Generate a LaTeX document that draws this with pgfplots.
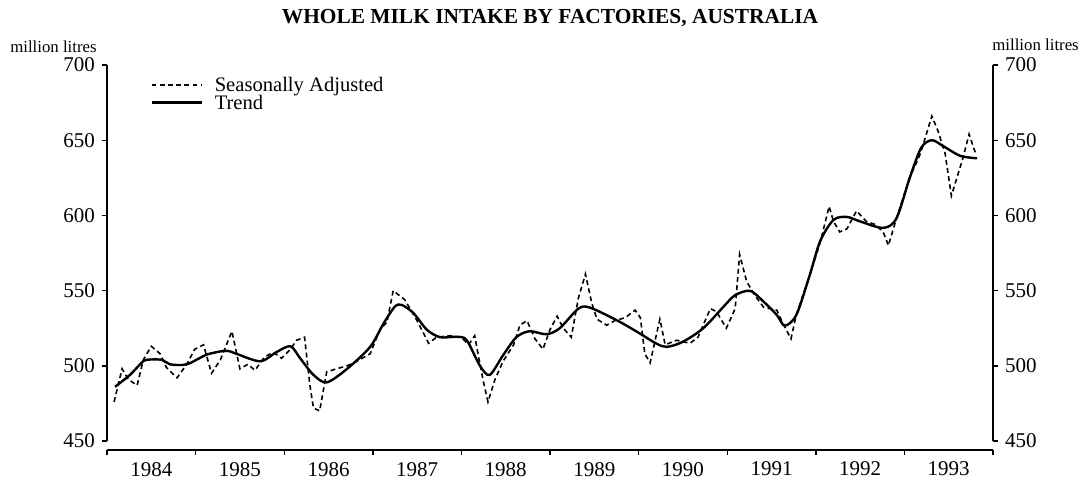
\documentclass[border=0pt]{standalone}
\usepackage{fontspec}
\setmainfont{Liberation Serif}
\usepackage{pgfplots}
\usepackage{pgfplotstable}
\pgfplotsset{compat=1.18}

\pgfplotstableread{
x y
0.08 476
0.17 498
0.24 491
0.34 487
0.41 504
0.50 513
0.60 508
0.67 499
0.79 492
0.90 501
0.99 511
1.09 514
1.18 495
1.28 504
1.41 523
1.50 498
1.59 501
1.67 497
1.78 506
1.88 509
1.97 505
2.07 511
2.14 517
2.23 519
2.29 487
2.33 472
2.40 470
2.48 496
2.59 498
2.71 500
2.82 503
2.97 508
3.08 524
3.16 529
3.23 550
3.36 544
3.50 530
3.63 515
3.72 519
3.87 520
4.00 519
4.08 514
4.15 520
4.19 507
4.25 489
4.30 476
4.38 491
4.47 503
4.59 514
4.66 527
4.74 530
4.83 518
4.92 511
5.00 524
5.08 533
5.15 525
5.24 519
5.32 545
5.40 561
5.47 542
5.53 531
5.64 527
5.73 530
5.85 532
5.96 537
6.02 532
6.07 508
6.13 502
6.24 531
6.30 514
6.43 517
6.58 515
6.67 519
6.81 538
6.88 536
6.99 525
7.09 538
7.14 574
7.22 556
7.31 547
7.41 539
7.56 537
7.63 528
7.72 518
7.78 534
7.93 560
8.05 582
8.15 606
8.20 596
8.27 589
8.35 591
8.46 603
8.57 596
8.67 594
8.76 589
8.82 580
8.91 598
9.06 625
9.18 641
9.31 666
9.38 656
9.46 641
9.53 613
9.66 638
9.73 654
9.81 640
}\sadata

\pgfplotstableread{
x y
0.09 486
0.26 494
0.39 502
0.45 504
0.62 504
0.71 501
0.90 501
1.13 507.5
1.35 510
1.46 508
1.73 503
1.91 509
2.07 513
2.18 505
2.33 494
2.48 489
2.71 498
2.97 512.6
3.12 528
3.25 539.4
3.33 540.4
3.46 535
3.61 524
3.76 519
3.95 519.3
4.06 517
4.21 500
4.32 494
4.47 507
4.62 519
4.77 523
4.96 521
5.11 525
5.32 538
5.45 538.7
5.75 530.4
5.98 522.7
6.20 514.8
6.32 512.6
6.50 516
6.73 525
6.96 539.4
7.09 547
7.26 549.8
7.41 542.7
7.56 533.8
7.65 526.7
7.78 533.8
7.93 560
8.05 583
8.20 597
8.35 599
8.50 596
8.76 591.7
8.91 598
9.06 625
9.19 645
9.31 650
9.44 646
9.63 639.6
9.82 638
}\trenddata

\begin{document}
\begin{tikzpicture}
\pgfplotsset{base/.style={
  width=443pt, height=188pt, scale only axis,
  xmin=0, xmax=10, ymin=450, ymax=700,
  /pgf/number format/assume math mode=true,
  tick style={black, line width=0.7pt},
  tick align=outside, major tick length=2.5pt,
  ticklabel style={font=\fontsize{10.5}{12}\selectfont},
  axis line style={line width=0.8pt},
}}
\begin{axis}[base, name=main,
  axis x line=none, axis y line*=left,
  ytick={450,500,...,700},
  title={WHOLE MILK INTAKE BY FACTORIES, AUSTRALIA},
  title style={font=\bfseries\fontsize{10.7}{12}\selectfont, at={(0.5,1)}, anchor=center, yshift=17.5pt},
  legend cell align=left,
  legend style={at={(0.0485,0.966)}, anchor=north west, draw=none, fill=none,
    inner sep=0pt, row sep=0.3pt, font=\fontsize{10.3}{11}\selectfont,
    nodes={inner sep=0pt, text height=6.8pt, text depth=1.8pt},
    /tikz/every odd column/.append style={column sep=6pt}},
  legend image code/.code={\draw[#1] (0pt,1pt) -- (25pt,1pt);},
]
\addplot[black, line width=0.8pt, dash pattern=on 2.4pt off 1.7pt] table[x=x,y=y] {\sadata};
\addlegendentry{Seasonally Adjusted}
\addplot[black, line width=1.2pt, smooth, tension=0.5] table[x=x,y=y] {\trenddata};
\addlegendentry{Trend}
\end{axis}
\begin{axis}[base,
  axis x line=none, axis y line*=right,
  ytick={450,500,...,700},
]
\end{axis}
\begin{axis}[base, at={(0pt,-4.5pt)},
  axis y line=none, axis x line*=bottom,
  xtick={0,...,10},
  xticklabels={1984,1985,1986,1987,1988,1989,1990,1991,1992,1993},
  x tick label as interval,
]
\end{axis}
\node[anchor=east, font=\fontsize{8.4}{10}\selectfont, inner sep=0pt] at ([xshift=-5pt,yshift=9pt]main.north west) {million litres};
\node[anchor=west, font=\fontsize{8.4}{10}\selectfont, inner sep=0pt] at ([xshift=-0.5pt,yshift=10pt]main.north east) {million litres};
\pgfresetboundingbox
\path[use as bounding box] (-53.5pt,-21.5pt) rectangle (489.5pt,220.5pt);
\end{tikzpicture}
\end{document}
